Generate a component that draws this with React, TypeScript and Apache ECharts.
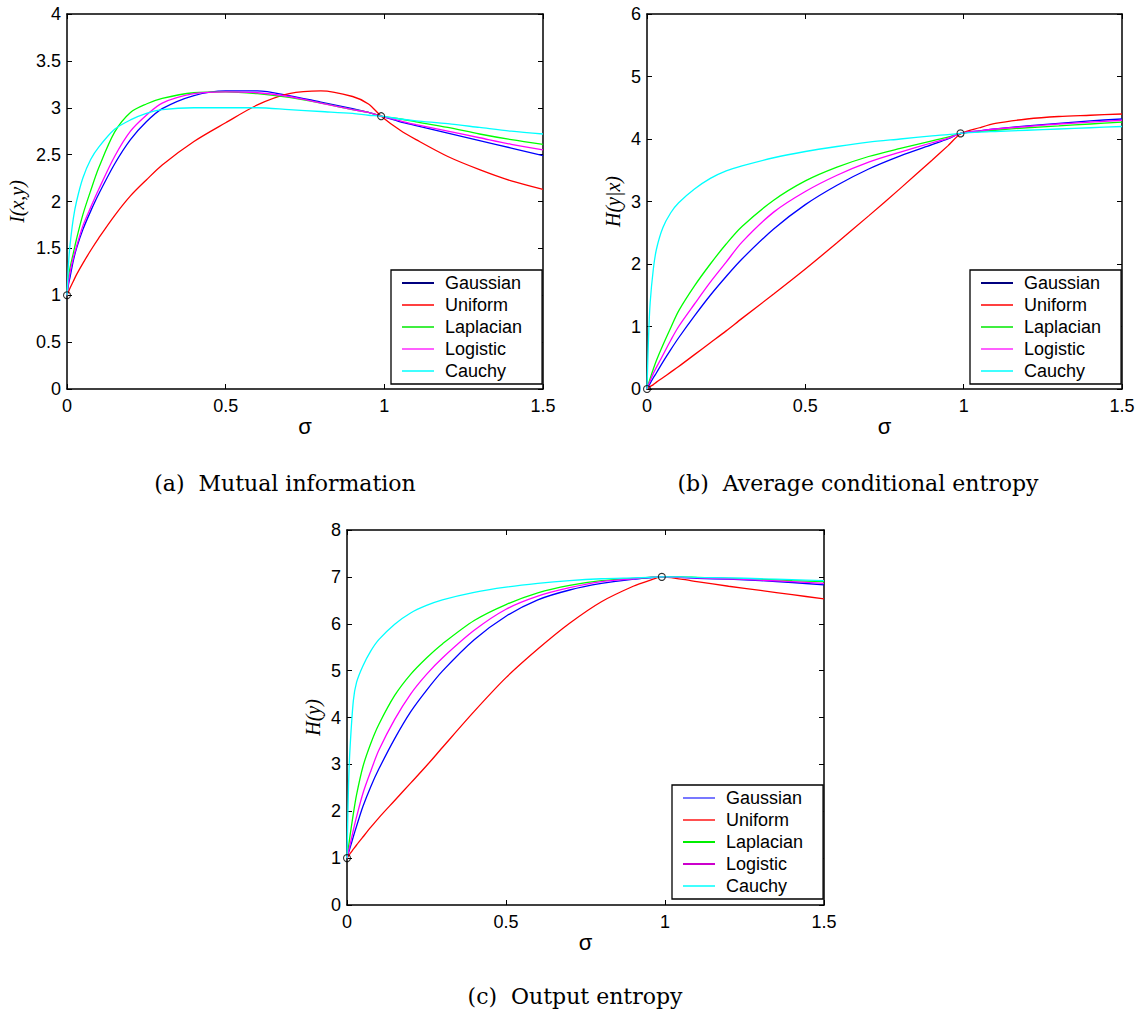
import React, { useEffect, useRef } from "react";
import * as echarts from "echarts";

// shared sigma grid
const SIGMA = [0, 0.005, 0.01, 0.02, 0.03, 0.05, 0.075, 0.1, 0.15, 0.2, 0.25, 0.3, 0.4, 0.5, 0.6, 0.7, 0.8, 0.9, 0.95, 0.99, 1.05, 1.1, 1.2, 1.3, 1.4, 1.5];

// (a) Mutual information
const A_GAUSS = [1, 1.12, 1.2, 1.37, 1.5, 1.7, 1.9, 2.08, 2.4, 2.66, 2.85, 2.99, 3.13, 3.18, 3.18, 3.13, 3.06, 2.99, 2.95, 2.91, 2.85, 2.81, 2.73, 2.65, 2.57, 2.49];
const A_UNIF = [1, 1.04, 1.08, 1.15, 1.22, 1.34, 1.48, 1.61, 1.85, 2.06, 2.23, 2.39, 2.64, 2.84, 3.03, 3.15, 3.18, 3.12, 3.04, 2.91, 2.76, 2.66, 2.48, 2.34, 2.22, 2.13];
const A_LAPL = [1, 1.2, 1.3, 1.45, 1.6, 1.86, 2.12, 2.36, 2.74, 2.95, 3.04, 3.1, 3.16, 3.17, 3.15, 3.11, 3.05, 2.98, 2.95, 2.91, 2.88, 2.85, 2.79, 2.72, 2.66, 2.61];
const A_LOGI = [1, 1.15, 1.25, 1.4, 1.52, 1.74, 1.94, 2.13, 2.48, 2.75, 2.92, 3.05, 3.15, 3.17, 3.16, 3.12, 3.05, 2.98, 2.95, 2.91, 2.86, 2.82, 2.75, 2.68, 2.61, 2.55];
const A_CAUC = [1, 1.35, 1.55, 1.82, 2.0, 2.25, 2.45, 2.58, 2.77, 2.87, 2.94, 2.98, 3.0, 3.0, 3.0, 2.98, 2.96, 2.94, 2.92, 2.91, 2.88, 2.86, 2.83, 2.79, 2.75, 2.72];
const A_MARKS = [[0, 1], [0.99, 2.91]];

// (b) Average conditional entropy
const B_GAUSS = [0, 0.05, 0.09, 0.18, 0.26, 0.43, 0.63, 0.82, 1.17, 1.5, 1.8, 2.08, 2.56, 2.95, 3.26, 3.52, 3.73, 3.91, 4.0, 4.09, 4.13, 4.16, 4.21, 4.25, 4.29, 4.32];
const B_UNIF = [0, 0.02, 0.04, 0.07, 0.11, 0.18, 0.27, 0.36, 0.55, 0.74, 0.93, 1.13, 1.52, 1.92, 2.34, 2.77, 3.21, 3.66, 3.89, 4.08, 4.18, 4.25, 4.32, 4.36, 4.38, 4.4];
const B_LAPL = [0, 0.09, 0.17, 0.32, 0.46, 0.7, 0.98, 1.25, 1.65, 2.0, 2.32, 2.6, 3.02, 3.33, 3.55, 3.72, 3.85, 3.97, 4.03, 4.09, 4.12, 4.14, 4.18, 4.21, 4.24, 4.27];
const B_LOGI = [0, 0.07, 0.13, 0.25, 0.35, 0.54, 0.78, 1.0, 1.36, 1.71, 2.03, 2.35, 2.83, 3.16, 3.42, 3.63, 3.79, 3.94, 4.01, 4.09, 4.13, 4.16, 4.2, 4.24, 4.27, 4.3];
const B_CAUC = [0, 0.85, 1.38, 1.92, 2.24, 2.58, 2.82, 2.98, 3.2, 3.37, 3.49, 3.57, 3.7, 3.8, 3.88, 3.95, 4.0, 4.05, 4.07, 4.09, 4.11, 4.12, 4.14, 4.16, 4.18, 4.2];
const B_MARKS = [[0, 0], [0.99, 4.09]];

// (c) Output entropy
const C_GAUSS = [1, 1.12, 1.23, 1.46, 1.68, 2.1, 2.53, 2.9, 3.55, 4.12, 4.58, 4.99, 5.66, 6.16, 6.51, 6.72, 6.86, 6.95, 6.98, 7.0, 6.99, 6.97, 6.95, 6.92, 6.88, 6.83];
const C_UNIF = [1, 1.05, 1.1, 1.19, 1.28, 1.45, 1.66, 1.86, 2.23, 2.6, 2.97, 3.36, 4.13, 4.85, 5.46, 6.01, 6.47, 6.8, 6.92, 7.0, 6.95, 6.9, 6.8, 6.71, 6.62, 6.53];
const C_LAPL = [1, 1.25, 1.5, 1.95, 2.35, 2.95, 3.45, 3.85, 4.47, 4.92, 5.27, 5.57, 6.07, 6.41, 6.66, 6.82, 6.92, 6.97, 6.99, 7.0, 7.0, 6.99, 6.97, 6.95, 6.92, 6.9];
const C_LOGI = [1, 1.15, 1.3, 1.6, 1.88, 2.38, 2.86, 3.3, 3.96, 4.5, 4.92, 5.27, 5.86, 6.31, 6.59, 6.77, 6.9, 6.96, 6.99, 7.0, 6.99, 6.98, 6.96, 6.93, 6.9, 6.86];
const C_CAUC = [1, 2.6, 3.4, 4.36, 4.75, 5.1, 5.42, 5.66, 5.99, 6.23, 6.39, 6.51, 6.67, 6.78, 6.86, 6.92, 6.96, 6.98, 6.99, 7.0, 7.0, 6.99, 6.98, 6.96, 6.94, 6.92];
const C_MARKS = [[0, 1], [0.99, 7.0]];

const NAMES = ["Gaussian", "Uniform", "Laplacian", "Logistic", "Cauchy"];
const LINE_COLORS = ["#0000ff", "#ff0000", "#00ff00", "#ff00ff", "#00ffff"];
const LEGEND_AB_COLORS = ["#00007f", "#ff4040", "#40ee40", "#ff60ff", "#40ffff"];
const LEGEND_C_COLORS = ["#7878ff", "#ff5050", "#00ee00", "#cc00cc", "#40ffff"];

const SANS = "'Liberation Sans', Arial, Helvetica, sans-serif";
const SERIF = "'Liberation Serif', 'Times New Roman', serif";

const PANELS = [
  {
    grid: { left: 67, top: 14, width: 476, height: 375 },
    yMax: 4, yInt: 0.5, yName: "I(x,y)", yNameGap: 40,
    series: [A_GAUSS, A_UNIF, A_LAPL, A_LOGI, A_CAUC], marks: A_MARKS,
    legend: { left: 391, top: 270 }, legendColors: LEGEND_AB_COLORS,
    caption: "(a)  Mutual information", capX: 285, capY: 483,
  },
  {
    grid: { left: 647, top: 14, width: 475, height: 375 },
    yMax: 6, yInt: 1, yName: "H(y|x)", yNameGap: 24,
    series: [B_GAUSS, B_UNIF, B_LAPL, B_LOGI, B_CAUC], marks: B_MARKS,
    legend: { left: 970, top: 270 }, legendColors: LEGEND_AB_COLORS,
    caption: "(b)  Average conditional entropy", capX: 858, capY: 483,
  },
  {
    grid: { left: 347, top: 530, width: 477, height: 375 },
    yMax: 8, yInt: 1, yName: "H(y)", yNameGap: 24,
    series: [C_GAUSS, C_UNIF, C_LAPL, C_LOGI, C_CAUC], marks: C_MARKS,
    legend: { left: 672, top: 785 }, legendColors: LEGEND_C_COLORS,
    caption: "(c)  Output entropy", capX: 575, capY: 996,
  },
];

function buildOption() {
  const grid: any[] = [];
  const xAxis: any[] = [];
  const yAxis: any[] = [];
  const series: any[] = [];
  const legend: any[] = [];
  const graphic: any[] = [];
  const axisLine = { show: true, onZero: false, lineStyle: { color: "#000", width: 1.5 } };
  const axisTick = { show: true, inside: true, length: 5, lineStyle: { color: "#000", width: 1 } };

  PANELS.forEach((p, i) => {
    grid.push({ ...p.grid, containLabel: false, show: false });
    xAxis.push({
      type: "value", gridIndex: i, min: 0, max: 1.5, interval: 0.5, position: "bottom",
      axisLine, axisTick, splitLine: { show: false },
      axisLabel: { color: "#000", fontSize: 18, fontFamily: SANS, margin: 8 },
      name: "σ", nameLocation: "middle", nameGap: 25,
      nameTextStyle: { color: "#000", fontSize: 22, fontFamily: SANS },
    });
    xAxis.push({
      type: "value", gridIndex: i, min: 0, max: 1.5, interval: 0.5, position: "top",
      axisLine, axisTick, splitLine: { show: false }, axisLabel: { show: false },
    });
    yAxis.push({
      type: "value", gridIndex: i, min: 0, max: p.yMax, interval: p.yInt, position: "left",
      axisLine, axisTick, splitLine: { show: false },
      axisLabel: { color: "#000", fontSize: 18, fontFamily: SANS, margin: 6 },
      name: p.yName, nameLocation: "middle", nameRotate: 90, nameGap: p.yNameGap,
      nameTextStyle: { color: "#000", fontSize: 20, fontFamily: SERIF, fontStyle: "italic" },
    });
    yAxis.push({
      type: "value", gridIndex: i, min: 0, max: p.yMax, interval: p.yInt, position: "right",
      axisLine, axisTick, splitLine: { show: false }, axisLabel: { show: false },
    });
    p.series.forEach((arr, k) => {
      series.push({
        type: "line", name: NAMES[k], xAxisIndex: 2 * i, yAxisIndex: 2 * i,
        data: SIGMA.map((s, j) => [s, arr[j]]),
        symbol: "none", showSymbol: false, smooth: 0.3,
        lineStyle: { color: LINE_COLORS[k], width: 1.3 },
        itemStyle: { color: LINE_COLORS[k] },
        z: 2 + k * 0.01, silent: true,
      });
    });
    series.push({
      type: "scatter", xAxisIndex: 2 * i, yAxisIndex: 2 * i, data: p.marks,
      symbol: "circle", symbolSize: 7, clip: false, silent: true, z: 5,
      itemStyle: { color: "rgba(0,0,0,0)", borderColor: "#000", borderWidth: 1.1 },
    });
    legend.push({
      show: true, orient: "vertical", left: p.legend.left, top: p.legend.top,
      data: NAMES.map((n, k) => ({ name: n, itemStyle: { color: p.legendColors[k] } })),
      icon: "rect", itemWidth: 32, itemHeight: 2, itemGap: 4,
      padding: [4, 20, 4, 11], backgroundColor: "#fff", borderColor: "#000", borderWidth: 1.3,
      textStyle: { fontSize: 18, color: "#000", fontFamily: SANS, padding: [0, 0, 0, 6] },
      selectedMode: false, z: 10,
    });
    graphic.push({
      type: "text", x: p.capX, y: p.capY, z: 10,
      style: {
        text: p.caption, font: "22px 'DejaVu Serif', serif", fill: "#000",
        textAlign: "center", textVerticalAlign: "middle", verticalAlign: "middle",
      },
    });
  });

  return { animation: false, backgroundColor: "#fff", grid, xAxis, yAxis, series, legend, graphic };
}

export default function App() {
  const ref = useRef<HTMLDivElement>(null);
  useEffect(() => {
    if (!ref.current) return;
    const chart = echarts.init(ref.current, undefined, { renderer: "svg" });
    chart.setOption(buildOption() as any);
    return () => chart.dispose();
  }, []);
  return (
    <div
      ref={ref}
      style={{ position: "absolute", left: 0, top: 0, width: 1144, height: 1017, background: "#fff" }}
    />
  );
}
